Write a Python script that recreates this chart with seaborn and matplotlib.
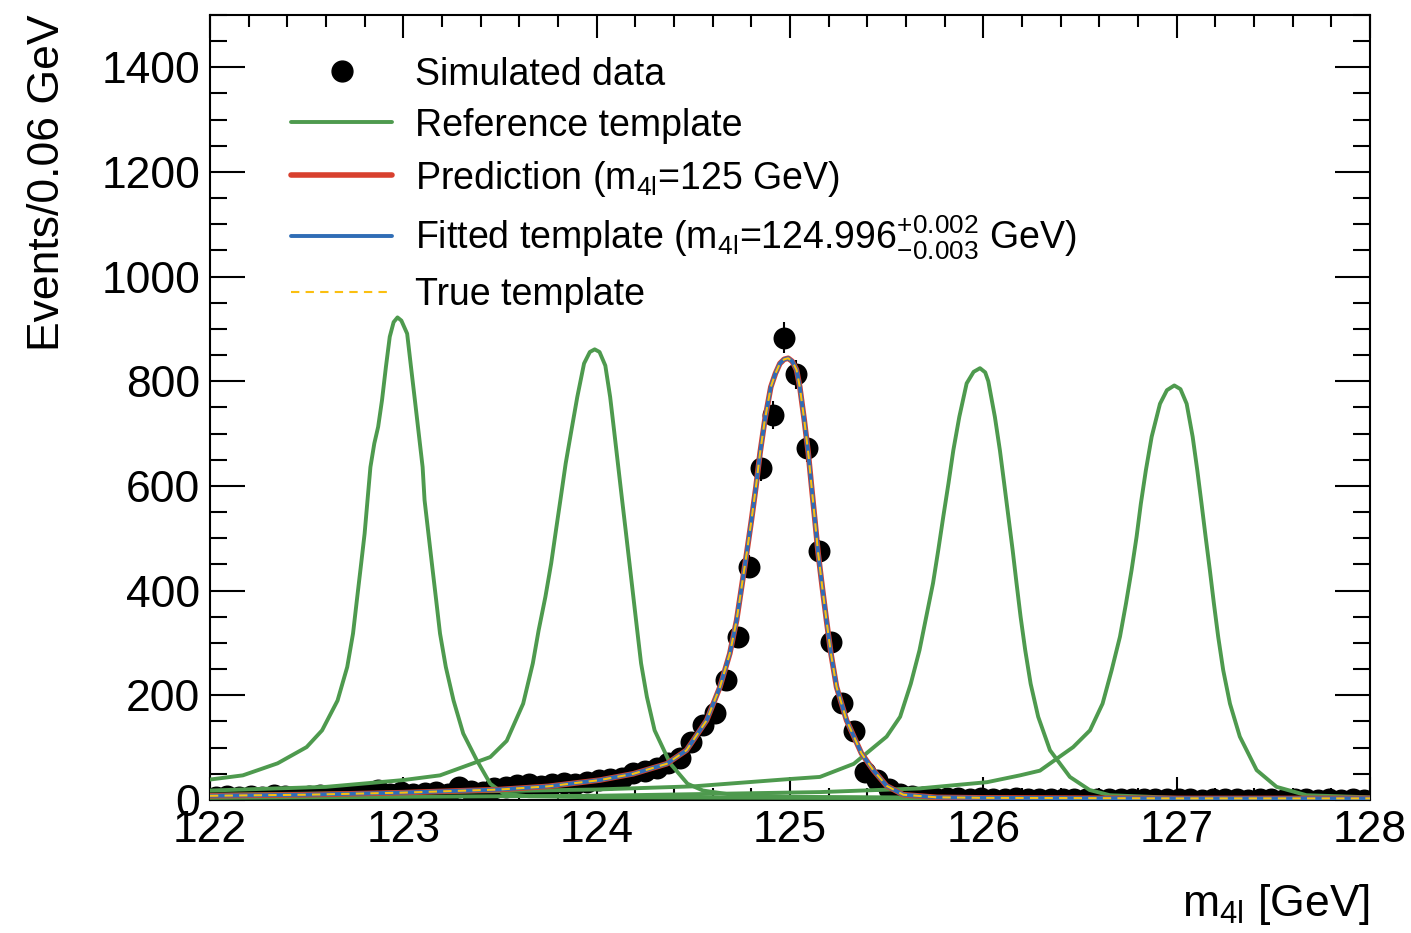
import numpy as np
import matplotlib
matplotlib.use("Agg")
import matplotlib.pyplot as plt
from matplotlib.ticker import MultipleLocator
from matplotlib.lines import Line2D
import seaborn as sns

# ==========================================================
# Data
# ==========================================================

# simulated data, 0.06 GeV bins from 122 to 128
bin_x = np.arange(122.03, 128.0, 0.06)
counts = [6, 7, 5, 8, 6, 9, 7, 5, 8, 10,
          7, 9, 11, 14, 19, 12, 15, 11, 13, 16,
          12, 25, 18, 16, 22, 24, 28, 30, 27, 31,
          33, 30, 35, 38, 40, 42, 52, 56, 62, 70,
          80, 111, 143, 166, 229, 312, 446, 634, 736, 883,
          813, 672, 475, 301, 185, 131, 54, 38, 20, 12,
          8, 5, 4, 3, 3, 2, 3, 2, 2, 3,
          2, 1, 2, 2, 1, 2, 1, 1, 2, 1,
          1, 1, 2, 1, 1, 0, 1, 1, 1, 0,
          1, 1, 0, 1, 1, 0, 1, 0, 1, 0]

# reference templates (green)
t123_x = [122.00, 122.17, 122.35, 122.50, 122.58, 122.66, 122.71, 122.74, 122.76, 122.78,
          122.80, 122.815, 122.83, 122.85, 122.87, 122.89, 122.91, 122.93, 122.95, 122.97,
          122.99, 123.02, 123.04, 123.06, 123.08, 123.10, 123.11, 123.13, 123.15, 123.17,
          123.19, 123.22, 123.26, 123.31, 123.38, 123.45, 123.52, 123.65, 124.0, 125.0,
          126.0, 127.0, 128.0]
t123_y = [39, 47, 70, 101, 133, 190, 254, 318, 382, 445,
          509, 573, 636, 681, 713, 764, 827, 885, 913, 922,
          916, 891, 827, 764, 700, 636, 573, 509, 445, 382,
          318, 254, 190, 127, 76, 31, 12, 7, 5, 4,
          3, 2, 2]

t124_x = [122.0, 122.6, 123.0, 123.19, 123.45, 123.535, 123.62, 123.67, 123.70, 123.735,
          123.765, 123.79, 123.815, 123.84, 123.87, 123.90, 123.935, 123.965, 123.99, 124.015,
          124.045, 124.07, 124.09, 124.11, 124.13, 124.15, 124.17, 124.19, 124.21, 124.23,
          124.26, 124.30, 124.38, 124.47, 124.55, 124.7, 125.0, 126.0, 127.0, 128.0]
t124_y = [18, 25, 38, 47, 82, 113, 184, 261, 324, 388,
          452, 516, 579, 643, 707, 770, 834, 856, 861, 856,
          830, 770, 707, 643, 579, 516, 452, 388, 324, 261,
          197, 133, 70, 31, 18, 10, 6, 4, 3, 2]

t126_x = [122.0, 123.0, 124.0, 124.5, 125.0, 125.155, 125.33, 125.50, 125.57, 125.625,
          125.67, 125.705, 125.74, 125.767, 125.793, 125.82, 125.845, 125.876, 125.914, 125.95,
          125.983, 126.01, 126.026, 126.06, 126.086, 126.108, 126.13, 126.152, 126.172, 126.193,
          126.217, 126.245, 126.284, 126.345, 126.448, 126.55, 126.655, 127.0, 128.0]
t126_y = [10, 14, 20, 26, 40, 44, 69, 121, 159, 222,
          286, 350, 414, 477, 541, 605, 668, 732, 796, 818,
          825, 817, 800, 732, 668, 605, 541, 477, 414, 350,
          286, 222, 159, 95, 44, 19, 9, 4, 2]

t127_x = [122.0, 124.0, 125.155, 125.67, 126.02, 126.19, 126.293, 126.465, 126.552, 126.617,
          126.664, 126.707, 126.738, 126.767, 126.793, 126.815, 126.841, 126.871, 126.914, 126.95,
          126.988, 127.02, 127.052, 127.083, 127.107, 127.129, 127.15, 127.172, 127.193, 127.215,
          127.241, 127.276, 127.327, 127.414, 127.517, 127.672, 128.0]
t127_y = [4, 8, 15, 22, 34, 47, 56, 101, 133, 184,
          248, 312, 375, 439, 503, 566, 630, 694, 757, 783,
          792, 785, 757, 694, 630, 566, 503, 439, 375, 312,
          248, 184, 121, 57, 25, 9, 5]

# prediction / fitted / true template at 125 GeV (they lie on top of each other)
sig_x = [122.0, 122.5, 123.0, 123.5, 123.75, 124.017, 124.19, 124.362, 124.465, 124.569,
         124.638, 124.689, 124.724, 124.75, 124.776, 124.801, 124.824, 124.845, 124.87, 124.901,
         124.925, 124.948, 124.97, 124.991, 125.012, 125.034, 125.051, 125.074, 125.095, 125.112,
         125.129, 125.146, 125.167, 125.189, 125.212, 125.241, 125.293, 125.37, 125.431, 125.5,
         125.586, 125.76, 126.0, 127.0, 128.0]
sig_y = [8, 10, 14, 20, 26, 38, 50, 69, 95, 152,
         216, 280, 343, 407, 471, 535, 598, 662, 726, 789,
         815, 834, 842, 844, 838, 822, 789, 726, 662, 598,
         535, 471, 407, 343, 280, 216, 152, 89, 57, 27,
         10, 5, 4, 3, 3]

labels = ["Simulated data",
          "Reference template",
          r"Prediction (m$_{4l}$=125 GeV)",
          r"Fitted template (m$_{4l}$=124.996$^{+0.002}_{-0.003}$ GeV)",
          "True template"]

green = "#4e9a4e"
red = "#d8402e"
blue = "#2f6db6"
orange = "#fbbf10"

# ==========================================================
# Style
# ==========================================================

sns.set_theme(style="ticks")
plt.rcParams["font.family"] = ["Liberation Sans", "DejaVu Sans"]
plt.rcParams["mathtext.fontset"] = "custom"
plt.rcParams["mathtext.rm"] = "Liberation Sans"
plt.rcParams["mathtext.default"] = "regular"
plt.rcParams["text.color"] = "black"
plt.rcParams["axes.labelcolor"] = "black"
plt.rcParams["xtick.color"] = "black"
plt.rcParams["ytick.color"] = "black"

fig = plt.figure(figsize=(14.11, 9.33), dpi=100)
ax = fig.add_axes([0.1488, 0.1426, 0.8221, 0.8414])

# ==========================================================
# Plot
# ==========================================================

counts = np.array(counts)
ax.errorbar(bin_x, counts, yerr=np.sqrt(counts), fmt="none", ecolor="black",
            elinewidth=1.5, zorder=2)
sns.scatterplot(x=bin_x, y=counts, color="black", s=250, linewidth=0, ax=ax, zorder=3)

for tx, ty in [(t123_x, t123_y), (t124_x, t124_y), (t126_x, t126_y), (t127_x, t127_y)]:
    sns.lineplot(x=tx, y=ty, color=green, lw=2.8, ax=ax, zorder=4)

sns.lineplot(x=sig_x, y=sig_y, color=red, lw=4.0, ax=ax, zorder=5)
sns.lineplot(x=sig_x, y=sig_y, color=blue, lw=2.8, ax=ax, zorder=6)
ax.plot(sig_x, sig_y, color=orange, lw=1.5, ls=(0, (4, 3)), zorder=7)

ax.set_xlim(122, 128)
ax.set_ylim(0, 1500)
ax.xaxis.set_major_locator(MultipleLocator(1))
ax.xaxis.set_minor_locator(MultipleLocator(0.2))
ax.yaxis.set_minor_locator(MultipleLocator(50))
ax.set_yticks([0, 200, 400, 600, 800, 1000, 1200, 1400])

ax.tick_params(which="both", direction="in", top=True, right=True, width=1.5,
               colors="black", labelsize=32)
ax.tick_params(axis="x", which="major", length=16.5, pad=7)
ax.tick_params(axis="x", which="minor", length=8.5)
ax.tick_params(axis="y", which="major", length=25, pad=7)
ax.tick_params(axis="y", which="minor", length=12.5)
for sp in ax.spines.values():
    sp.set_linewidth(1.5)
    sp.set_color("black")

ax.set_ylabel("Events/0.06 GeV", fontsize=32, loc="top")
ax.yaxis.set_label_coords(-0.122, 1.0)
ax.set_xlabel(r"m$_{4l}$ [GeV]", fontsize=32, loc="right")
ax.xaxis.set_label_coords(1.0, -0.105)

handles = [Line2D([], [], marker="o", ls="none", color="black", ms=15),
           Line2D([], [], color=green, lw=2.8),
           Line2D([], [], color=red, lw=4.0),
           Line2D([], [], color=blue, lw=2.8),
           Line2D([], [], color=orange, lw=1.5, ls=(0, (4, 3)))]
ax.legend(handles, labels, loc="upper left", bbox_to_anchor=(0.07, 0.947),
          frameon=False, fontsize=27, handlelength=2.7, handletextpad=0.6,
          labelspacing=0.4, borderpad=0, borderaxespad=0)

fig.savefig("out.png", dpi=100)
